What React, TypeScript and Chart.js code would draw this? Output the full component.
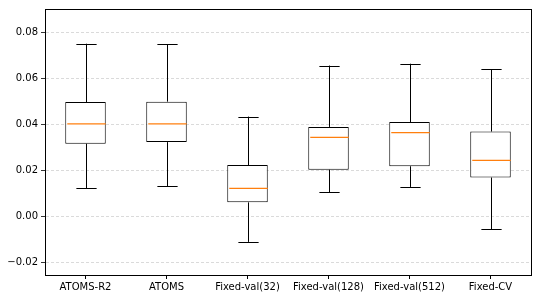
import React, { useEffect, useRef } from "react";
import { Chart, registerables } from "chart.js";

Chart.register(...registerables);

const categories = ["ATOMS-R2", "ATOMS", "Fixed-val(32)", "Fixed-val(128)", "Fixed-val(512)", "Fixed-CV"];
const whiskerLow = [0.0124, 0.0132, -0.0110, 0.0106, 0.0129, -0.0055];
const q1 = [0.0317, 0.0324, 0.0062, 0.0204, 0.0219, 0.0170];
const medians = [0.0403, 0.0403, 0.0123, 0.0345, 0.0365, 0.0245];
const q3 = [0.0498, 0.0500, 0.0224, 0.0390, 0.0411, 0.0370];
const whiskerHigh = [0.0752, 0.0750, 0.0435, 0.0657, 0.0665, 0.0640];
const yTicks = [-0.02, 0.0, 0.02, 0.04, 0.06, 0.08];

const FONT = "'DejaVu Sans', sans-serif";

const boxPlugin = {
  id: "boxWhiskers",
  afterDatasetsDraw(chart: any) {
    const { ctx, scales, chartArea } = chart;
    const x = scales.x;
    const y = scales.y;
    const step = x.getPixelForValue(1) - x.getPixelForValue(0);
    const capHalf = step * 0.125;
    const boxHalf = step * 0.25;
    ctx.save();
    ctx.setLineDash([]);
    categories.forEach((_, i) => {
      const cx = Math.round(x.getPixelForValue(i)) + 0.5;
      const yl = y.getPixelForValue(whiskerLow[i]);
      const yq1 = y.getPixelForValue(q1[i]);
      const yq3 = y.getPixelForValue(q3[i]);
      const yh = y.getPixelForValue(whiskerHigh[i]);
      ctx.lineWidth = 1;
      ctx.strokeStyle = "#000000";
      ctx.beginPath();
      ctx.moveTo(cx, yq1);
      ctx.lineTo(cx, yl);
      ctx.moveTo(cx - capHalf, Math.round(yl) + 0.5);
      ctx.lineTo(cx + capHalf, Math.round(yl) + 0.5);
      ctx.moveTo(cx, yq3);
      ctx.lineTo(cx, yh);
      ctx.moveTo(cx - capHalf, Math.round(yh) + 0.5);
      ctx.lineTo(cx + capHalf, Math.round(yh) + 0.5);
      ctx.stroke();
      const ym = y.getPixelForValue(medians[i]);
      ctx.strokeStyle = "#ff7f0e";
      ctx.lineWidth = 1.3;
      ctx.beginPath();
      ctx.moveTo(cx - boxHalf + 1, ym);
      ctx.lineTo(cx + boxHalf - 1, ym);
      ctx.stroke();
    });
    ctx.strokeStyle = "#000000";
    ctx.lineWidth = 1;
    ctx.strokeRect(
      Math.round(chartArea.left) + 0.5,
      Math.round(chartArea.top) + 0.5,
      Math.round(chartArea.right - chartArea.left),
      Math.round(chartArea.bottom - chartArea.top)
    );
    ctx.restore();
  },
};

export default function App() {
  const ref = useRef<HTMLCanvasElement>(null);
  useEffect(() => {
    document.body.style.margin = "0";
    const canvas = ref.current!;
    const chart = new Chart(canvas, {
      type: "bar",
      data: {
        labels: categories,
        datasets: [
          {
            data: categories.map((_, i) => [q1[i], q3[i]]) as any,
            backgroundColor: "#ffffff",
            borderColor: "#000000",
            borderWidth: 1,
            borderSkipped: false,
            barPercentage: 0.5,
            categoryPercentage: 1.0,
          },
        ],
      },
      options: {
        responsive: false,
        animation: false,
        layout: { padding: { top: 9, right: 9, left: 0, bottom: 0 } },
        plugins: { legend: { display: false }, tooltip: { enabled: false } },
        scales: {
          x: {
            offset: true,
            grid: {
              display: true,
              drawOnChartArea: false,
              drawTicks: true,
              tickLength: 4,
              tickColor: "#000",
              offset: false,
            },
            border: { display: true, color: "#000", width: 1 },
            ticks: {
              color: "#000",
              font: { family: FONT, size: 10 },
              maxRotation: 0,
              autoSkip: false,
              padding: 2,
            },
            afterFit(scale: any) {
              scale.height = 25;
            },
          },
          y: {
            min: -0.0254,
            max: 0.0903,
            afterBuildTicks(scale: any) {
              scale.ticks = yTicks.map((v) => ({ value: v }));
            },
            grid: {
              color: "rgba(176,176,176,0.6)",
              lineWidth: 0.8,
              drawTicks: true,
              tickLength: 4,
              tickColor: "#000",
              tickBorderDash: [],
            },
            border: { display: true, color: "#000", width: 1, dash: [3, 2] },
            ticks: {
              color: "#000",
              font: { family: FONT, size: 10 },
              padding: 3,
              callback: (v: any) => {
                const n = Number(v);
                const s = Math.abs(n).toFixed(2);
                return n < -1e-9 ? "\u2212" + s : s;
              },
            },
            afterFit(scale: any) {
              scale.width = 45;
            },
          },
        },
      },
      plugins: [boxPlugin],
    });
    return () => chart.destroy();
  }, []);
  return (
    <div style={{ width: 540, height: 300 }}>
      <canvas ref={ref} width={540} height={300} />
    </div>
  );
}
